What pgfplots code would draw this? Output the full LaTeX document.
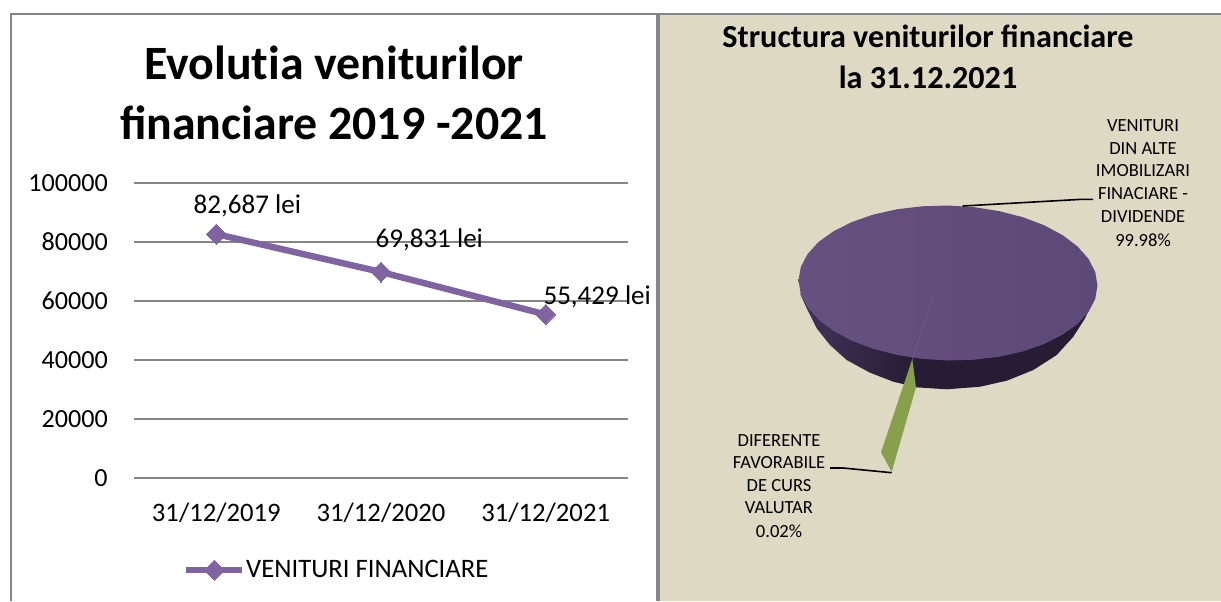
\documentclass[border=0pt]{standalone}
\usepackage{fontspec}
\setmainfont{Carlito}
\usepackage{pgfplots}
\pgfplotsset{compat=1.18}

% sizes given in reference pixels, 1px = .75pt
\newcommand{\pxfont}[1]{\fontsize{#1}{#1}\selectfont}

\definecolor{framegray}{RGB}{134,134,134}
\definecolor{panelbg}{RGB}{221,217,195}
\definecolor{linepurple}{RGB}{128,100,162}
\definecolor{pietopA}{RGB}{103,81,128}
\definecolor{pietopB}{RGB}{94,72,119}
\definecolor{sideA}{RGB}{66,52,90}
\definecolor{sideB}{RGB}{38,28,51}
\definecolor{slicegreen}{RGB}{134,160,75}

\begin{document}
\begin{tikzpicture}

% whole canvas in pixel coordinates: panels and pie
\begin{axis}[
at={(0pt,0pt)}, anchor=south west,
scale only axis,
width=915.75pt, height=450.75pt,
xmin=0, xmax=1221, ymin=0, ymax=601,
y dir=reverse,
axis lines=none,
no markers,
]
% white page, keeps the bounding box at full size
\addplot[fill=white, draw=none] coordinates {(0,0) (1221,0) (1221,601) (0,601)};
\addplot[fill=panelbg, draw=none] coordinates {(659,14) (1221,14) (1221,601) (659,601)};
\addplot[framegray, line width=1.5pt] coordinates {(11,601) (11,14) (1221,14)};
\addplot[framegray, line width=2.4pt] coordinates {(658,14) (658,601)};

% pie side
\addplot[draw=none, left color=sideA, right color=sideB] coordinates {
(800,293.3) (806.7,308.3) (816.7,328.3) (830,345) (846.7,360) (870,372.7) (893.3,381.7) (916.7,387.3)
(916.7,350) (800,293.3)};
\addplot[fill=sideB, draw=none] coordinates {
(916,387.3) (946.7,389.3) (980,386.7) (1006.7,380.7) (1033.3,370) (1056.7,355) (1073.3,336.7) (1085,318.3) (1095,296.7) (916,340)};

% pie top
\addplot[draw=none, left color=pietopA, right color=pietopB] coordinates {
(1097.5,285.5) (1095.2,299) (1088.5,311.9) (1077.5,324) (1062.5,334.7) (1044.1,344)
(1022.8,351.4) (999.1,356.7) (974,359.7) (948,360.5) (922,358.9) (896.9,354.9)
(873.2,348.8) (851.9,340.8) (833.5,330.9) (818.5,319.6) (807.5,307.1) (800.8,294)
(798.5,280.5) (800.8,267) (807.5,254.1) (818.5,242) (833.5,231.3) (851.9,222)
(873.2,214.6) (896.9,209.3) (922,206.3) (948,205.5) (974,207.1) (999.1,211.1)
(1022.8,217.2) (1044.1,225.2) (1062.5,235.1) (1077.5,246.4) (1088.5,258.9) (1095.2,272)};
\addplot[color=pietopA!93!white, line width=.4pt] coordinates {(933,297) (912.3,359)};

% small slice
\addplot[fill=slicegreen, draw=none] coordinates {(912.3,359) (916,387.3) (891.7,471.7) (881,452.3)};

% leader lines
\addplot[black, line width=1.2pt] coordinates {(962.7,206) (1081.7,199.3) (1093,199.3)};
\addplot[black, line width=1.2pt] coordinates {(891.7,472.7) (843,468) (830,468)};

\node[font=\pxfont{35.9pt}\bfseries] at (axis cs:334,63) {Evolut\kern0pt ia veniturilor};
\node[font=\pxfont{35.9pt}\bfseries] at (axis cs:334,123) {financiare 2019 -2021};
\node[font=\pxfont{24.1pt}\bfseries] at (axis cs:928,36) {Structura veniturilor financiare};
\node[font=\pxfont{24.1pt}\bfseries] at (axis cs:928,77) {la 31.12.2021};

\node[font=\pxfont{13.9pt}] at (axis cs:1143,126) {VENITURI};
\node[font=\pxfont{13.9pt}] at (axis cs:1143,149) {DIN ALTE};
\node[font=\pxfont{13.9pt}] at (axis cs:1143,171) {IMOBILIZARI};
\node[font=\pxfont{13.9pt}] at (axis cs:1143,194) {FINACIARE -};
\node[font=\pxfont{13.9pt}] at (axis cs:1143,217) {DIVIDENDE};
\node[font=\pxfont{13.9pt}] at (axis cs:1143,240) {99.98\%};

\node[font=\pxfont{13.9pt}] at (axis cs:779,441) {DIFERENTE};
\node[font=\pxfont{13.9pt}] at (axis cs:779,463) {FAVORABILE};
\node[font=\pxfont{13.9pt}] at (axis cs:779,486) {DE CURS};
\node[font=\pxfont{13.9pt}] at (axis cs:779,508) {VALUTAR};
\node[font=\pxfont{13.9pt}] at (axis cs:779,531) {0.02\%};
\end{axis}

% line chart
\begin{axis}[
at={(100.5pt,92.25pt)}, anchor=south west,
scale only axis,
width=370.5pt, height=221.25pt,
xmin=-0.5, xmax=2.5, ymin=0, ymax=100000,
clip=false,
axis x line*=bottom, axis y line*=left,
x axis line style={-, draw=framegray, line width=1.5pt},
y axis line style={draw=none},
major tick length=0pt,
ymajorgrids,
y grid style={framegray, line width=1.5pt},
ytick={0,20000,40000,60000,80000,100000},
xtick={0,1,2},
xticklabels={31/12/2019,31/12/2020,31/12/2021},
/pgf/number format/assume math mode=true,
/pgf/number format/1000 sep={},
/pgf/number format/fixed,
/pgf/number format/precision=0,
scaled y ticks=false,
yticklabel style={font=\pxfont{19.6pt}, anchor=east, inner sep=0pt, xshift=-19.5pt},
xticklabel style={font=\pxfont{20pt}, anchor=center, inner sep=0pt, yshift=-26.25pt},
legend style={
  at={(0.099,-0.312)}, anchor=west, draw=none, fill=none,
  inner sep=0pt, font=\pxfont{20pt},
  legend cell align=left,
  /tikz/every odd column/.append style={column sep=-1.5pt},
},
legend image code/.code={
  \draw[#1, mark repeat=2, mark phase=2] plot coordinates {(0pt,0pt) (21pt,0pt) (42pt,0pt)};
},
]
\addplot[linepurple, line width=4.8pt, mark=diamond*,
  mark size=7.5pt, mark options={solid, fill=linepurple, line width=0pt, xscale=1.33}]
table {
0 82687
1 69831
2 55429
};
\addlegendentry{VENITURI FINANCIARE}
\node[font=\pxfont{20.3pt}] at (axis cs:0.188,92200) {82,687 lei};
\node[font=\pxfont{20.3pt}] at (axis cs:1.293,80680) {69,831 lei};
\node[font=\pxfont{20.3pt}] at (axis cs:2.313,61360) {55,429 lei};
\end{axis}

\end{tikzpicture}
\end{document}
